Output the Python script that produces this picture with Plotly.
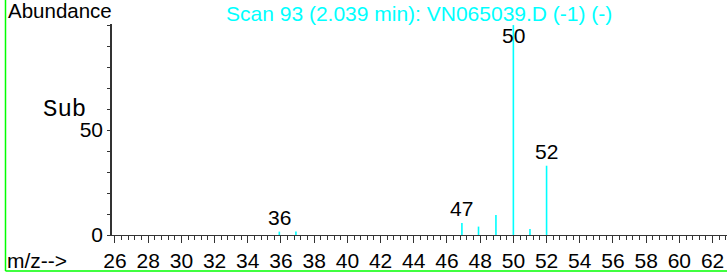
import plotly.graph_objects as go

# ---- data ----
mz = [35.9, 36.9, 46.9, 47.9, 48.95, 50.0, 51.0, 52.0]
abundance = [1.6, 1.7, 5.7, 4.0, 9.5, 100.0, 2.8, 33.0]
peak_labels = ["36", "47", "50", "52"]
label_mz = [35.9, 46.9, 50.0, 52.0]
label_ab = [1.6, 5.7, 100.0, 33.0]
y_tick_vals = [0, 50]
title_text = "Scan 93 (2.039 min): VN065039.D (-1) (-)"

CYAN = "#00FFFF"
FONT = "Liberation Sans, Arial, sans-serif"

xs, ys = [], []
for m, a in zip(mz, abundance):
    xs += [m, m, None]
    ys += [0, a, None]

fig = go.Figure()
fig.add_trace(go.Scatter(x=xs, y=ys, mode="lines",
                         line=dict(color=CYAN, width=1.6),
                         hoverinfo="skip", showlegend=False, cliponaxis=False))

W, H = 727, 273
L, R, T, B = 112, 0, 24, 38
pw, ph = W - L - R, H - T - B

def px_x(px):
    return (px - L) / pw

def px_y(py):
    return (H - B - py) / ph

annotations = []
for lab, m, a in zip(peak_labels, label_mz, label_ab):
    if a >= 99:
        annotations.append(dict(x=m, y=a, text=lab, showarrow=False, xanchor="center",
                                yanchor="top", yshift=3,
                                font=dict(family=FONT, size=21, color="black")))
    else:
        annotations.append(dict(x=m, y=a, text=lab, showarrow=False, xanchor="center",
                                yanchor="bottom", yshift=1,
                                font=dict(family=FONT, size=21, color="black")))

annotations += [
    dict(xref="paper", yref="paper", x=px_x(418.5), y=px_y(13), text=title_text,
         showarrow=False, xanchor="center", yanchor="middle",
         font=dict(family=FONT, size=21, color=CYAN)),
    dict(xref="paper", yref="paper", x=px_x(6), y=px_y(11), text="Abundance",
         showarrow=False, xanchor="left", yanchor="middle",
         font=dict(family=FONT, size=20.5, color="black")),
    dict(xref="paper", yref="paper", x=px_x(5), y=px_y(260), text="m/z-->",
         showarrow=False, xanchor="left", yanchor="middle",
         font=dict(family=FONT, size=21, color="black")),
    dict(xref="paper", yref="paper", x=px_x(64), y=px_y(109), text="Sub",
         showarrow=False, xanchor="center", yanchor="middle",
         font=dict(family="Courier New, Liberation Mono, monospace", size=24, color="black")),
]

shapes = [
    dict(type="line", xref="paper", yref="paper", x0=px_x(5.5), x1=px_x(5.5),
         y0=px_y(0), y1=px_y(271), line=dict(color="#00FF00", width=1.5)),
    dict(type="line", xref="paper", yref="paper", x0=px_x(5.5), x1=px_x(W + 5),
         y0=px_y(271), y1=px_y(271), line=dict(color="#00FF00", width=1.5)),
]

fig.update_layout(
    width=W, height=H,
    margin=dict(l=L, r=R, t=T, b=B, pad=0),
    paper_bgcolor="white", plot_bgcolor="white",
    showlegend=False,
    annotations=annotations,
    shapes=shapes,
    xaxis=dict(range=[25.82, 62.87], showgrid=False, zeroline=False,
               showline=True, linecolor="#333333", linewidth=1.2,
               tickmode="linear", tick0=26, dtick=2, ticks="outside",
               ticklen=7, tickwidth=1.2, tickcolor="#333333",
               minor=dict(tick0=26, dtick=0.4, ticks="outside", ticklen=4,
                          tickwidth=1, tickcolor="#333333"),
               tickfont=dict(family=FONT, size=21, color="black")),
    yaxis=dict(range=[0, 100.5], showgrid=False, zeroline=False,
               showline=True, linecolor="#333333", linewidth=1.5,
               tickmode="array", tickvals=y_tick_vals,
               ticktext=[str(v) for v in y_tick_vals],
               ticks="outside", ticklen=3, tickwidth=1, tickcolor="#333333",
               minor=dict(tick0=0, dtick=10, ticks="outside", ticklen=3,
                          tickwidth=1, tickcolor="#333333"),
               tickfont=dict(family=FONT, size=21, color="black")),
)

fig.write_html("out.html", config={"displayModeBar": False},
               post_script="document.body.style.margin='0px';document.body.style.overflow='hidden';")
